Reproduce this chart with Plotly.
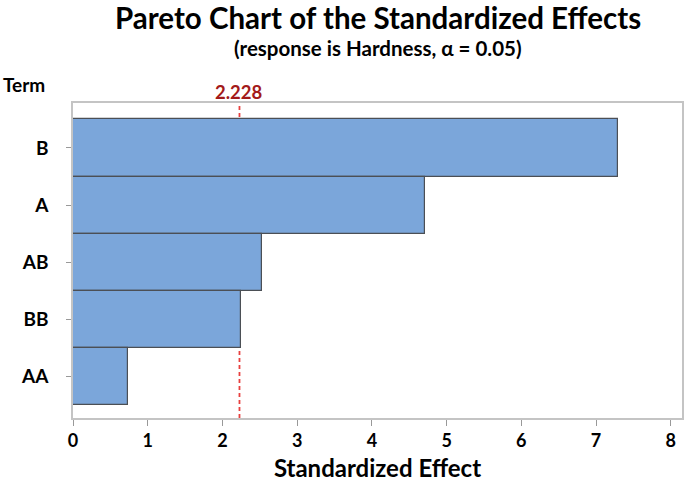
import plotly.graph_objects as go

terms = ["B", "A", "AB", "BB", "AA"]
effects = [7.29, 4.71, 2.53, 2.25, 0.74]
critical = 2.228
xticks = [0, 1, 2, 3, 4, 5, 6, 7, 8]

FONT = "Lato"

fig = go.Figure()
fig.add_trace(go.Bar(
    x=effects, y=list(range(len(terms))), orientation="h",
    width=1.0,
    marker=dict(color="#7BA6DA", line=dict(color="#4B4F55", width=1.2)),
    showlegend=False, hoverinfo="x+y",
))

fig.add_shape(type="line", x0=critical, x1=critical, xref="x", yref="paper",
              y0=0, y1=1.0, layer="below",
              line=dict(color="#E8403F", width=1.8, dash="4px,3px"))

fig.add_annotation(x=critical, xref="x", y=1, yref="paper", yanchor="bottom",
                   text="2.228", showarrow=False, yshift=-2,
                   font=dict(family=FONT, size=18.5, color="#A31A1A", weight="bold"))
fig.add_annotation(x=0, xref="paper", y=1, yref="paper", yanchor="bottom",
                   xanchor="left", xshift=-72, yshift=5,
                   text="Term", showarrow=False,
                   font=dict(family=FONT, size=19, color="black", weight="bold"))
fig.add_annotation(x=0.5, xref="paper", y=1.272, yref="paper", yanchor="middle",
                   xanchor="center", text="Pareto Chart of the Standardized Effects",
                   showarrow=False,
                   font=dict(family=FONT, size=29.5, color="black", weight="bold"))
fig.add_annotation(x=0.5, xref="paper", y=1.176, yref="paper", yanchor="middle",
                   xanchor="center", text="(response is Hardness, α = 0.05)",
                   showarrow=False,
                   font=dict(family=FONT, size=20.5, color="black", weight="bold"))

fig.update_layout(
    width=685, height=483,
    margin=dict(l=73, r=3, t=103, b=65, autoexpand=False),
    paper_bgcolor="white", plot_bgcolor="white",
    bargap=0,
    xaxis=dict(
        range=[0, 8.15], tickvals=xticks, ticks="outside", ticklen=6,
        tickcolor="#999999", showline=True, linecolor="#C4C4C4", linewidth=1.5,
        mirror=True, showgrid=False, zeroline=False, automargin=False,
        tickfont=dict(family=FONT, size=18, color="black", weight="bold"),
        title=dict(text="Standardized Effect", standoff=10,
                   font=dict(family=FONT, size=24, color="black", weight="bold")),
    ),
    yaxis=dict(
        range=[4.72, -0.785], tickvals=list(range(len(terms))),
        ticktext=terms, automargin=False,
        ticks="outside", ticklen=5, tickcolor="#999999",
        showline=True, linecolor="#C4C4C4", linewidth=1.5, mirror=True,
        showgrid=False, zeroline=False, ticklabelstandoff=14,
        tickfont=dict(family=FONT, size=19, color="black", weight="bold"),
    ),
)

fig.write_html("out.html", config={"displayModeBar": False},
               post_script="document.body.style.margin='0';document.body.style.overflow='hidden';")
